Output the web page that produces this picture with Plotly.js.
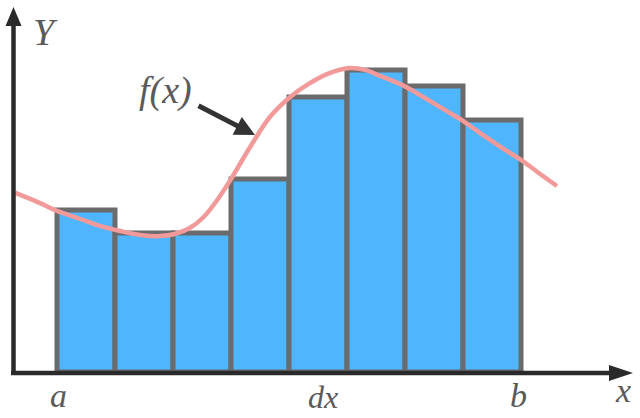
<!DOCTYPE html>
<html>
<head>
<meta charset="utf-8">
<script src="https://cdn.plot.ly/plotly-3.0.1.min.js"></script>
<style>html,body{margin:0;padding:0;background:#fff;}#chart{width:640px;height:418px;}</style>
</head>
<body>
<div id="chart"></div>
<script>
// ---- data (arbitrary units: one bin = 1 on x, heights in y units) ----
var barX = [0.5, 1.5, 2.5, 3.5, 4.5, 5.5, 6.5, 7.5];
var barHeights = [5.4, 4.63, 4.63, 6.43, 9.17, 10.07, 9.53, 8.4];
var curveX = [-0.72, -0.29, 0, 0.4, 0.74, 1.09, 1.43, 1.78, 2.03, 2.29, 2.52, 2.75, 2.98, 3.33, 3.67, 4.02, 4.36, 4.71, 5.05, 5.31, 5.57, 5.83, 6.02, 6.26, 6.52, 6.78, 7.0, 7.29, 7.55, 7.81, 8.0, 8.33, 8.62];
var curveY = [5.97, 5.63, 5.37, 5.1, 4.87, 4.7, 4.57, 4.53, 4.6, 4.8, 5.15, 5.7, 6.37, 7.5, 8.5, 9.17, 9.63, 9.97, 10.13, 10.07, 9.87, 9.67, 9.5, 9.23, 8.93, 8.63, 8.37, 7.97, 7.63, 7.3, 7.07, 6.6, 6.2];
var labels = ["a", "dx", "b", "x", "Y", "f(x)"];

// ---- helpers for pixel placement of decorations ----
var W = 640, H = 418;
function px(x) { return x / W; }
function py(y) { return 1 - y / H; }

var axisColor = "#2a2a2a";
var textFont = {family: "'Liberation Serif', 'DejaVu Serif', serif", size: 34, color: "#5a5a5a"};

var traces = [
  {
    type: "bar",
    x: barX,
    y: barHeights,
    width: 1,
    marker: {color: "#4fb5fc", line: {color: "#6b6b6b", width: 5}},
    hoverinfo: "skip"
  },
  {
    type: "scatter",
    mode: "lines",
    x: curveX,
    y: curveY,
    line: {color: "#f29a9a", width: 4.5, shape: "spline", smoothing: 1},
    hoverinfo: "skip"
  }
];

function lbl(text, x, y, size) {
  return {
    text: "<i>" + text + "</i>", xref: "paper", yref: "paper",
    x: px(x), y: py(y), xanchor: "center", yanchor: "middle",
    showarrow: false, font: Object.assign({}, textFont, size ? {size: size} : {})
  };
}

var layout = {
  width: W, height: H,
  margin: {l: 0, r: 0, t: 0, b: 0, pad: 0},
  paper_bgcolor: "#ffffff",
  plot_bgcolor: "#ffffff",
  showlegend: false,
  bargap: 0,
  xaxis: {range: [(0 - 57) / 58, (640 - 57) / 58], visible: false, fixedrange: true},
  yaxis: {range: [(372 - 418) / 30, 372 / 30], visible: false, fixedrange: true},
  shapes: [
    {type: "line", xref: "paper", yref: "paper", x0: px(13.5), x1: px(13.5), y0: py(375), y1: py(22),
     line: {color: axisColor, width: 4.5}, layer: "above"},
    {type: "path", xref: "paper", yref: "paper",
     path: "M" + px(13.5) + "," + py(7) + " L" + px(5.5) + "," + py(26) + " L" + px(21.5) + "," + py(26) + " Z",
     fillcolor: axisColor, line: {width: 0}, layer: "above"},
    {type: "line", xref: "paper", yref: "paper", x0: px(11), x1: px(615), y0: py(373), y1: py(373),
     line: {color: axisColor, width: 4.5}, layer: "above"},
    {type: "path", xref: "paper", yref: "paper",
     path: "M" + px(633) + "," + py(373) + " L" + px(609) + "," + py(365) + " L" + px(609) + "," + py(381) + " Z",
     fillcolor: axisColor, line: {width: 0}, layer: "above"}
  ],
  annotations: [
    lbl(labels[0], 58, 395),
    lbl(labels[1], 323, 397, 32),
    lbl(labels[2], 518, 395),
    lbl(labels[3], 623, 390),
    lbl(labels[4], 45, 32, 38),
    lbl(labels[5], 165, 90, 38),
    {
      text: "", xref: "paper", yref: "paper", axref: "pixel", ayref: "pixel",
      x: px(255), y: py(135), ax: -58, ay: -30,
      showarrow: true, arrowhead: 2, arrowsize: 0.8, arrowwidth: 5, arrowcolor: "#333333",
      standoff: 0, startstandoff: 0
    }
  ]
};

Plotly.newPlot("chart", traces, layout, {staticPlot: true, displayModeBar: false});
</script>
</body>
</html>
